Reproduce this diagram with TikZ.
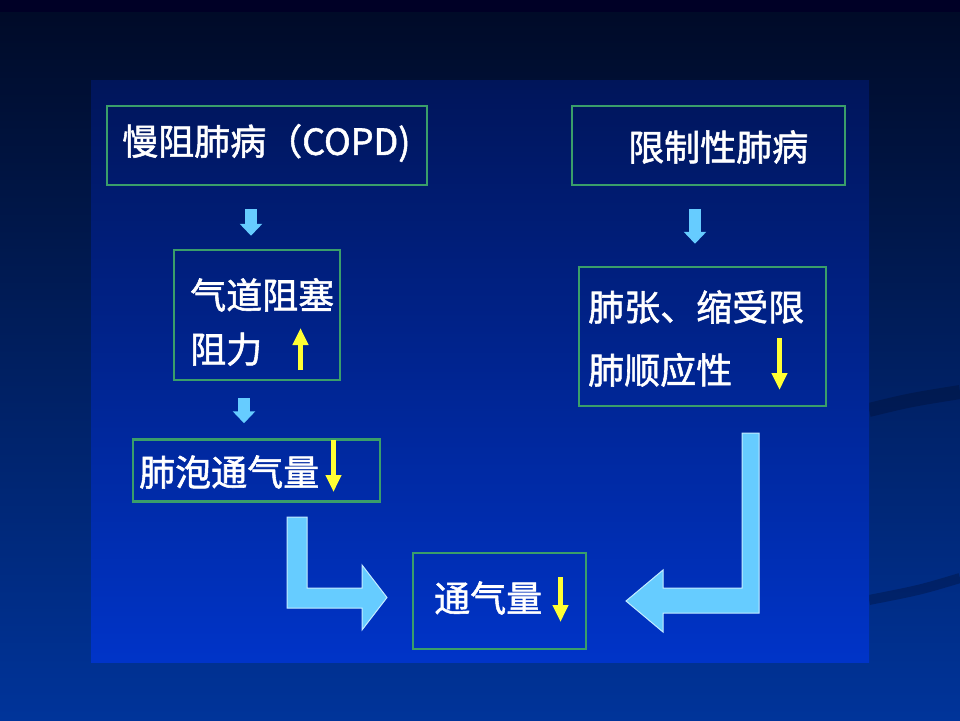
\documentclass[tikz,border=0pt]{standalone}
\usepackage{fontspec}
\setmainfont{Noto Sans CJK SC}[UprightFeatures={FakeBold=1.5}]
\usetikzlibrary{arrows.meta}

\definecolor{boxgreen}{HTML}{3A9E6A}
\definecolor{arrowblue}{HTML}{66CCFF}
\definecolor{arrowrim}{HTML}{C4ECFF}
\definecolor{yelarrow}{HTML}{FFFF33}
\definecolor{bgtop}{HTML}{000A26}
\definecolor{bgmid}{HTML}{00287E}
\definecolor{bgbot}{HTML}{00349A}
\definecolor{paneltop}{HTML}{00155A}
\definecolor{panelbot}{HTML}{0034C8}

\tikzset{
    box/.style={draw=boxgreen, line width=2.5pt, inner sep=0pt},
    txt/.style={text=white, font=\fontsize{36}{54}\selectfont, inner sep=0pt, anchor=west, align=left},
    downarr/.style={draw=arrowblue, line width=12pt, -{Triangle[width=22pt,length=12pt]}},
    yelarr/.style={draw=yelarrow, line width=5pt, -{Triangle[width=15pt,length=17pt]}},
    bigarr/.style={fill=arrowblue, draw=arrowrim, line width=1pt},
}

\begin{document}
\begin{tikzpicture}[x=1pt, y=-1pt]
    \useasboundingbox (0,0) rectangle (960,720);
    % background and panel
    \fill[top color=bgtop, middle color=bgmid, bottom color=bgbot] (0,0) rectangle (960,720);
    \fill[black!85!blue] (0,0) rectangle (960,12);
    \draw[bgtop, line width=14pt, opacity=0.3] (869,410) .. controls (910,400) .. (960,392);
    \draw[bgtop, line width=10pt, opacity=0.3] (869,600) .. controls (920,590) .. (960,578);
    \fill[top color=paneltop, bottom color=panelbot] (91,80) rectangle (869,662);

    % boxes
    \node[box, minimum width=320, minimum height=79] (copd) at (267,145.5) {};
    \node[box, minimum width=273, minimum height=79] (restrict) at (708.5,145.5) {};
    \node[box, minimum width=166, minimum height=130] (airway) at (257,315) {};
    \node[box, minimum width=247, minimum height=139] (compl) at (702.5,336.5) {};
    \node[box, minimum width=247, minimum height=62] (alv) at (256.5,470.5) {};
    \node[box, minimum width=173, minimum height=96] (vent) at (499.5,601) {};

    % texts
    \node[txt] (copdtxt) at (122,143) {慢阻肺病（COPD)};
    \node[txt] (restricttxt) at (628,147) {限制性肺病};
    \node[txt] (airwaytxt) at (190,322) {气道阻塞\\阻力};
    \node[txt, font=\fontsize{36}{63}\selectfont] (compltxt) at (588,338.5) {肺张、缩受限\\肺顺应性};
    \node[txt] (alvtxt) at (139,472) {肺泡通气量};
    \node[txt] (venttxt) at (434,598) {通气量};

    % yellow arrows
    \draw[yelarr] (300.5,370) -- (300.5,328);
    \draw[yelarr] (779.5,338) -- (779.5,390);
    \draw[yelarr] (333.5,440) -- (333.5,492);
    \draw[yelarr] (560.5,577) -- (560.5,622);

    % small arrows
    \draw[downarr] ([xshift=-16pt,yshift=-23pt]copd.south) -- ([xshift=-6pt,yshift=13pt]airway.north);
    \draw[downarr] ([xshift=-13pt,yshift=-17pt]airway.south) -- ([xshift=-12.5pt,yshift=15pt]alv.north);
    \draw[downarr] ([xshift=-13.5pt,yshift=-23pt]restrict.south) -- ([xshift=-7.5pt,yshift=22pt]compl.north);

    % big bent arrows
    \draw[bigarr] (287,517) -- (307,517) -- (307,588) -- (362,588) -- (362,565)
        -- (387,597.5) -- (362,630) -- (362,608) -- (287,608) -- cycle;
    \draw[bigarr] (742,433) -- (759,433) -- (759,613) -- (663,613) -- (663,632)
        -- (626,601) -- (663,570) -- (663,588) -- (742,588) -- cycle;
\end{tikzpicture}
\end{document}
